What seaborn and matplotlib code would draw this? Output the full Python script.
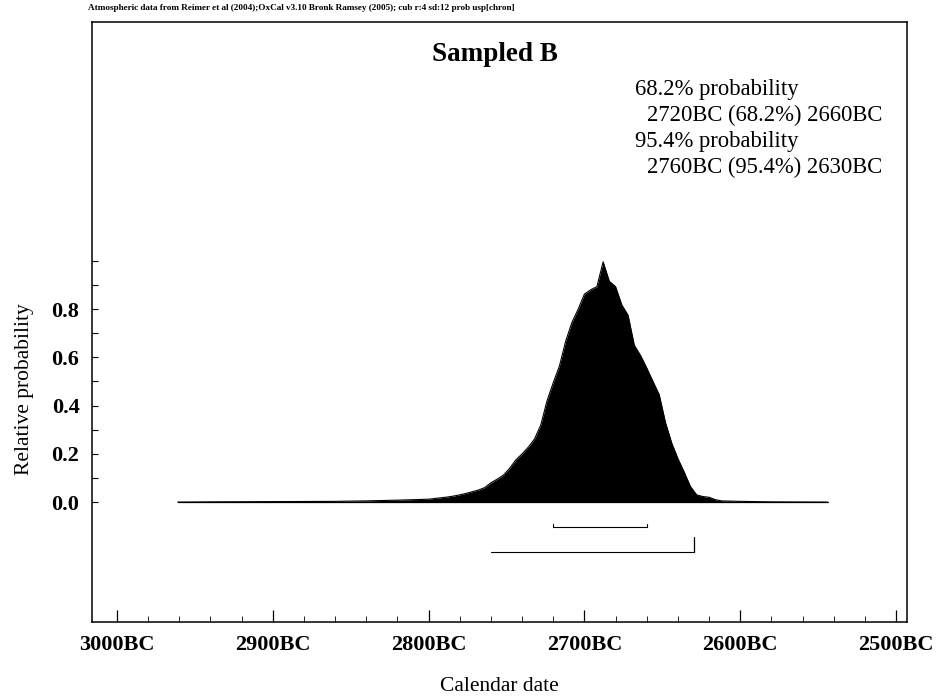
import numpy as np
import pandas as pd
import matplotlib
matplotlib.use("Agg")
import matplotlib.pyplot as plt
import seaborn as sns

# ---------------- data ----------------
years_bc = [2961, 2940, 2900, 2860, 2840, 2820,
            2800, 2796, 2792, 2788, 2784, 2780, 2776, 2772, 2768, 2764,
            2760, 2756, 2752, 2748, 2744, 2740, 2736, 2732, 2728, 2724,
            2720, 2716, 2712, 2708, 2704, 2700, 2696, 2692, 2688, 2684,
            2680, 2676, 2672, 2668, 2664, 2660, 2656, 2652, 2648, 2644,
            2640, 2636, 2632, 2628, 2624, 2620, 2616, 2612, 2600, 2580, 2544]
rel_prob = [0.0, 0.001, 0.002, 0.003, 0.005, 0.008,
            0.012, 0.015, 0.018, 0.021, 0.025, 0.030, 0.036, 0.043, 0.050, 0.060,
            0.080, 0.095, 0.112, 0.140, 0.175, 0.200, 0.228, 0.262, 0.320, 0.420,
            0.495, 0.565, 0.668, 0.745, 0.800, 0.862, 0.880, 0.893, 0.996, 0.915,
            0.893, 0.817, 0.775, 0.650, 0.608, 0.556, 0.500, 0.445, 0.330, 0.245,
            0.180, 0.125, 0.065, 0.030, 0.023, 0.020, 0.010, 0.005, 0.003, 0.001, 0.0]

range68 = [2720, 2660]
range95 = [2760, 2630]

title = "Sampled B"
summary_heads = ["68.2% probability", "95.4% probability"]
summary_ranges = ["2720BC (68.2%) 2660BC", "2760BC (95.4%) 2630BC"]
header = ("Atmospheric data from Reimer et al (2004);OxCal v3.10 Bronk Ramsey (2005); "
          "cub r:4 sd:12 prob usp[chron]")

xtick_years = [3000, 2900, 2800, 2700, 2600, 2500]
xtick_labels = ["3000BC", "2900BC", "2800BC", "2700BC", "2600BC", "2500BC"]
ytick_values = [0.0, 0.1, 0.2, 0.3, 0.4, 0.5, 0.6, 0.7, 0.8, 0.9, 1.0]
ytick_labels = ["0.0", "", "0.2", "", "0.4", "", "0.6", "", "0.8", "", ""]

# ---------------- style ----------------
sns.set_theme(style="white")
plt.rcParams['font.family'] = ['Liberation Serif', 'DejaVu Serif']
plt.rcParams['axes.edgecolor'] = 'black'
plt.rcParams['axes.linewidth'] = 1.1

df = pd.DataFrame({"year": years_bc, "prob": rel_prob})

fig = plt.figure(figsize=(9.44, 7.0), dpi=100)
ax = fig.add_axes([92/944, 1-622/700, 815/944, 600/700])

ax.fill_between(df["year"], 0, df["prob"], color="black", linewidth=0)
sns.lineplot(data=df, x="year", y="prob", ax=ax, color="black", linewidth=0.8,
             sort=False, estimator=None)
ax.plot([years_bc[0], years_bc[-1]], [0, 0], color="black", linewidth=0.9)

# range bars
y68, y95 = -0.104, -0.207
ax.plot(range68, [y68, y68], color="black", linewidth=0.8)
for xv in range68:
    ax.plot([xv, xv], [y68, y68 + 0.012], color="black", linewidth=0.8)
ax.plot(range95, [y95, y95], color="black", linewidth=0.8)
ax.plot([range95[1], range95[1]], [y95, y95 + 0.062], color="black", linewidth=0.9)

ax.set_xlim(3016, 2493)
ax.set_ylim(-0.497, 1.99)

ax.set_xticks(xtick_years)
ax.set_xticklabels(xtick_labels)
ax.set_xticks(np.arange(2980, 2500, -20), minor=True)
ax.set_yticks(ytick_values)
ax.set_yticklabels(ytick_labels)

ax.tick_params(axis='x', which='major', direction='in', length=8.6, width=0.9,
               pad=9, labelsize=16, bottom=True, top=False, colors='black')
ax.tick_params(axis='x', which='minor', direction='in', length=4.3, width=0.7,
               bottom=True, top=False)
ax.tick_params(axis='y', which='major', direction='in', length=4, width=0.8,
               pad=9, labelsize=16, left=True, right=False, colors='black')
for lab in ax.get_xticklabels() + ax.get_yticklabels():
    lab.set_fontweight('bold')

ax.set_xlabel("Calendar date", fontsize=15.5, color='black')
ax.set_ylabel("Relative probability", fontsize=15.5, color='black')
ax.xaxis.set_label_coords(0.5, -0.091)
ax.yaxis.set_label_coords(-0.071, 0.388)

for s in ax.spines.values():
    s.set_color('black')
    s.set_linewidth(1.1)

ax.text(0.4938, 0.935, title, transform=ax.transAxes, ha='center', va='baseline',
        fontsize=19.5, fontweight='bold', color='black')

# summary block: baselines at 95, 120.5, 146, 171.5 px from the top
base_px = [95, 147]
for i in range(2):
    yb = (622 - base_px[i]) / 600
    ax.text(0.6663, yb, summary_heads[i], transform=ax.transAxes, ha='left',
            va='baseline', fontsize=16.3, color='black')
    yb2 = (622 - base_px[i] - 26) / 600
    ax.text(0.681, yb2, summary_ranges[i], transform=ax.transAxes, ha='left',
            va='baseline', fontsize=16.3, color='black')

fig.text(88/944, 1 - 8/700, header, ha='left', va='center', fontsize=6.6,
         fontweight='bold', color='black')

fig.savefig("out.png", dpi=100, facecolor='white')
